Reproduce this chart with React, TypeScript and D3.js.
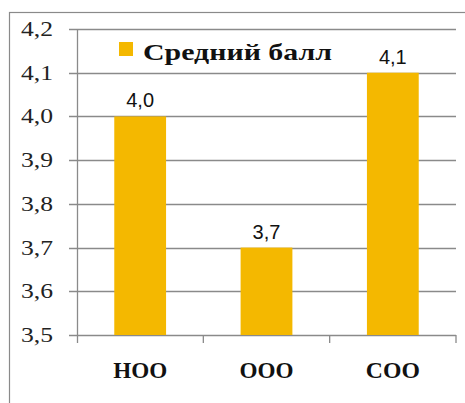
import React from "react";
import * as d3 from "d3";

const categories = ["НОО", "ООО", "СОО"];
const values = [4.0, 3.7, 4.1];
const valueLabels = ["4,0", "3,7", "4,1"];
const yTicks = [3.5, 3.6, 3.7, 3.8, 3.9, 4.0, 4.1, 4.2];
const seriesName = "Средний балл";

const W = 465;
const H = 403;
const left = 77;
const right = 456;
const top = 29;
const bottom = 335;
const barColor = "#F4B800";
const gridColor = "#8a8a8a";
const serif = "Liberation Serif, Times New Roman, Tinos, Noto Serif, DejaVu Serif, serif";
const sans = "Liberation Sans, Arial, sans-serif";

export default function App() {
  const x = d3.scaleBand<string>().domain(categories).range([left, right]).paddingInner(0.59).paddingOuter(0.295);
  const band = d3.scaleBand<string>().domain(categories).range([left, right]);
  const y = d3.scaleLinear().domain([3.5, 4.2]).range([bottom, top]);
  const fmt = (v: number) => v.toFixed(1).replace(".", ",");
  return (
    <svg width={W} height={H} style={{ position: "absolute", left: 0, top: 0, background: "#fff" }}>
      <rect x={9.5} y={12.5} width={470} height={400} fill="#fff" stroke={gridColor} strokeWidth={1.2} />
      {yTicks.map((t) => (
        <g key={t}>
          <line x1={left - 8} x2={right} y1={Math.round(y(t)) + 0.5} y2={Math.round(y(t)) + 0.5} stroke={gridColor} strokeWidth={1.3} />
          <text x={53} y={y(t) + 7} textAnchor="end" style={{ fontFamily: serif }} fontSize={21} textLength={32} lengthAdjust="spacingAndGlyphs" fill="#222">
            {fmt(t)}
          </text>
        </g>
      ))}
      <line x1={left + 0.5} x2={left + 0.5} y1={top} y2={bottom + 8} stroke={gridColor} strokeWidth={1.3} />
      {categories.map((c) => (
        <line key={"t" + c} x1={(band(c) as number) + band.bandwidth()} x2={(band(c) as number) + band.bandwidth()} y1={bottom} y2={bottom + 8} stroke={gridColor} strokeWidth={1.3} />
      ))}
      {categories.map((c, i) => (
        <g key={c}>
          <rect x={x(c)} y={y(values[i])} width={x.bandwidth()} height={bottom - y(values[i])} fill={barColor} />
          <text x={(x(c) as number) + x.bandwidth() / 2} y={y(values[i]) - 9} textAnchor="middle" style={{ fontFamily: sans }} fontSize={20} fill="#111">
            {valueLabels[i]}
          </text>
          <text x={(band(c) as number) + band.bandwidth() / 2} y={378} textAnchor="middle" style={{ fontFamily: serif }} fontWeight="bold" fontSize={23} textLength={54} lengthAdjust="spacingAndGlyphs" fill="#111">
            {c}
          </text>
        </g>
      ))}
      <rect x={119} y={42} width={14} height={14} fill={barColor} />
      <text x={143} y={60} style={{ fontFamily: serif }} fontWeight="bold" fontSize={24} textLength={189} lengthAdjust="spacingAndGlyphs" fill="#111">
        {seriesName}
      </text>
    </svg>
  );
}
